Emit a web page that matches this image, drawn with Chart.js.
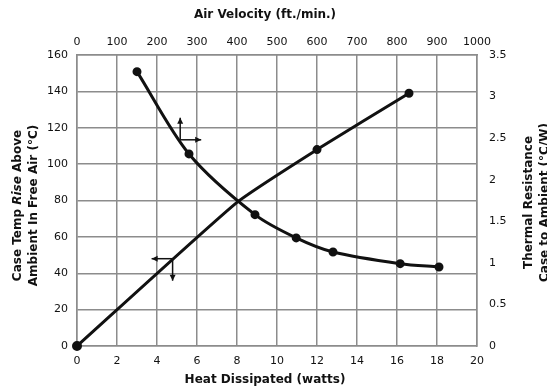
<!DOCTYPE html>
<html>
<head>
<meta charset="utf-8">
<script src="https://cdn.jsdelivr.net/npm/chart.js@4.4.1/dist/chart.umd.min.js"></script>
<style>
  html, body { margin: 0; padding: 0; background: #fff; }
  #wrap { width: 547px; height: 388px; position: relative; }
</style>
</head>
<body>
<div id="wrap"><canvas id="chart"></canvas></div>
<script>
// case temperature rise vs heat dissipated (bottom / left axes)
const heatWatts = [0, 8, 12, 16.6];
const caseTemp = [0, 79, 108, 139];
const heatDots = [3.5, 0, 3, 3];

// thermal resistance vs air velocity (top / right axes)
const airVelocity = [150, 280, 445, 548, 640, 808, 905];
const thermalRes = [3.3, 2.31, 1.58, 1.3, 1.13, 0.99, 0.95];

// tick labels
const wattTicks = [0, 2, 4, 6, 8, 10, 12, 14, 16, 18, 20];
const velocityTicks = [0, 100, 200, 300, 400, 500, 600, 700, 800, 900, 1000];
const tempTicks = [0, 20, 40, 60, 80, 100, 120, 140, 160];
const resTicks = [0, 0.5, 1, 1.5, 2, 2.5, 3, 3.5];

// the little "read this axis" arrows sitting on each curve
const resArrow = { x: 258, y: 2.48 };
const tempArrow = { x: 4.78, y: 48 };

const gridColor = '#8c8c8c';
const inkColor = '#111';
const tickFont = { family: 'DejaVu Sans', size: 11 };

function setTicks(list) {
    return scale => { scale.ticks = list.map(v => ({ value: v })); };
}
const plainLabel = v => String(v);

function arrow(ctx, x0, y0, x1, y1) {
    ctx.beginPath();
    ctx.moveTo(x0, y0);
    ctx.lineTo(x1, y1);
    ctx.stroke();
    const a = Math.atan2(y1 - y0, x1 - x0);
    ctx.beginPath();
    ctx.moveTo(x1, y1);
    ctx.lineTo(x1 - 6 * Math.cos(a) + 3 * Math.sin(a), y1 - 6 * Math.sin(a) - 3 * Math.cos(a));
    ctx.lineTo(x1 - 6 * Math.cos(a) - 3 * Math.sin(a), y1 - 6 * Math.sin(a) + 3 * Math.cos(a));
    ctx.closePath();
    ctx.fill();
}

const decorPlugin = {
    id: 'decor',
    afterDatasetsDraw(chart) {
        const ctx = chart.ctx;
        const s = chart.scales;
        ctx.save();
        ctx.strokeStyle = inkColor;
        ctx.fillStyle = inkColor;
        ctx.lineWidth = 1.5;

        let ax = s.x2.getPixelForValue(resArrow.x);
        let ay = s.y2.getPixelForValue(resArrow.y);
        arrow(ctx, ax, ay, ax, ay - 22);
        arrow(ctx, ax, ay, ax + 21, ay);

        ax = s.x.getPixelForValue(tempArrow.x);
        ay = s.y.getPixelForValue(tempArrow.y);
        arrow(ctx, ax, ay, ax - 21, ay);
        arrow(ctx, ax, ay, ax, ay + 22);
        ctx.restore();
    },
    afterDraw(chart) {
        const ctx = chart.ctx;
        const area = chart.chartArea;
        const midX = (area.left + area.right) / 2 - 12;
        const midY = (area.top + area.bottom) / 2 + 5;
        ctx.save();
        ctx.fillStyle = inkColor;
        ctx.textAlign = 'center';
        ctx.textBaseline = 'middle';
        ctx.font = 'bold 12px "DejaVu Sans"';
        ctx.fillText('Air Velocity (ft./min.)', midX, 15);
        ctx.fillText('Heat Dissipated (watts)', midX, 380);

        // left title, "Rise" in italics
        ctx.save();
        ctx.translate(18, midY);
        ctx.rotate(-Math.PI / 2);
        const parts = [['Case Temp ', 'bold'], ['Rise', 'italic bold'], [' Above', 'bold']];
        let total = 0;
        parts.forEach(p => { ctx.font = p[1] + ' 12px "DejaVu Sans"'; total += ctx.measureText(p[0]).width; });
        let cx = -total / 2;
        ctx.textAlign = 'left';
        parts.forEach(p => {
            ctx.font = p[1] + ' 12px "DejaVu Sans"';
            ctx.fillText(p[0], cx, 0);
            cx += ctx.measureText(p[0]).width;
        });
        ctx.textAlign = 'center';
        ctx.font = 'bold 12px "DejaVu Sans"';
        ctx.fillText('Ambient In Free Air (°C)', 0, 16);
        ctx.restore();

        // right title
        ctx.save();
        ctx.translate(529, midY - 3);
        ctx.rotate(-Math.PI / 2);
        ctx.font = 'bold 12px "DejaVu Sans"';
        ctx.fillText('Thermal Resistance', 0, 0);
        ctx.fillText('Case to Ambient (°C/W)', 0, 16);
        ctx.restore();
        ctx.restore();
    }
};

new Chart(document.getElementById('chart'), {
    type: 'line',
    data: {
        datasets: [
            {
                label: 'Case Temp Rise',
                data: heatWatts.map((w, i) => ({ x: w, y: caseTemp[i] })),
                xAxisID: 'x',
                yAxisID: 'y',
                borderColor: inkColor,
                backgroundColor: inkColor,
                borderWidth: 3,
                pointRadius: heatDots,
                tension: 0.15,
                clip: 8
            },
            {
                label: 'Thermal Resistance',
                data: airVelocity.map((v, i) => ({ x: v, y: thermalRes[i] })),
                xAxisID: 'x2',
                yAxisID: 'y2',
                borderColor: inkColor,
                backgroundColor: inkColor,
                borderWidth: 3,
                pointRadius: 3,
                tension: 0.3,
                clip: 8
            }
        ]
    },
    options: {
        responsive: true,
        maintainAspectRatio: false,
        animation: false,
        layout: { padding: 0 },
        plugins: {
            legend: { display: false },
            tooltip: { enabled: false }
        },
        scales: {
            x: {
                type: 'linear',
                position: 'bottom',
                min: 0,
                max: 20,
                afterBuildTicks: setTicks(wattTicks),
                afterFit: s => { s.height = 42; },
                grid: { color: gridColor, lineWidth: 1.5, drawTicks: false },
                border: { color: gridColor, width: 1.5 },
                ticks: { color: inkColor, font: tickFont, padding: 9, maxRotation: 0, callback: plainLabel }
            },
            x2: {
                type: 'linear',
                position: 'top',
                min: 0,
                max: 1000,
                afterBuildTicks: setTicks(velocityTicks),
                afterFit: s => { s.height = 55; },
                grid: { display: false, drawTicks: false },
                border: { color: gridColor, width: 1.5 },
                ticks: { color: inkColor, font: tickFont, padding: 6, maxRotation: 0, callback: plainLabel }
            },
            y: {
                type: 'linear',
                position: 'left',
                min: 0,
                max: 160,
                afterBuildTicks: setTicks(tempTicks),
                afterFit: s => { s.width = 77; },
                grid: { color: gridColor, lineWidth: 1.5, drawTicks: false },
                border: { color: gridColor, width: 1.5 },
                ticks: { color: inkColor, font: tickFont, padding: 9, callback: plainLabel }
            },
            y2: {
                type: 'linear',
                position: 'right',
                min: 0,
                max: 3.5,
                afterBuildTicks: setTicks(resTicks),
                afterFit: s => { s.width = 70; },
                grid: { display: false, drawTicks: false },
                border: { color: gridColor, width: 1.5 },
                ticks: { color: inkColor, font: tickFont, padding: 12, callback: plainLabel }
            }
        }
    },
    plugins: [decorPlugin]
});
</script>
</body>
</html>
